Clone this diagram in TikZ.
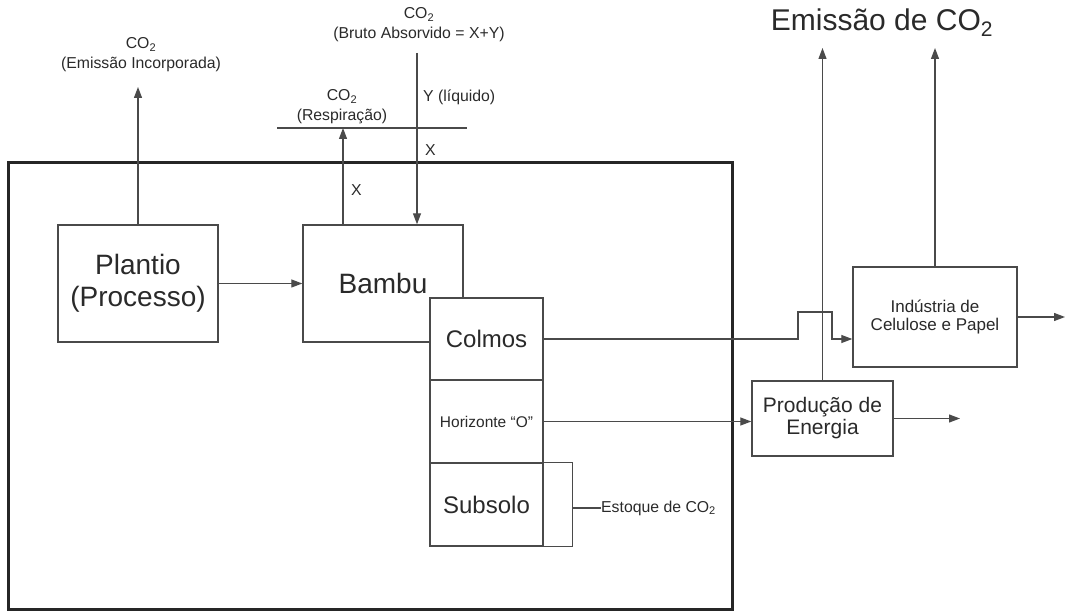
\documentclass[tikz,border=0pt]{standalone}
\usepackage{fontspec}
\setmainfont{Liberation Sans}
\usepackage{tikz}
\usetikzlibrary{positioning, shapes, arrows.meta}
\definecolor{linha}{HTML}{4A4A4A}
\definecolor{texto}{HTML}{2A2A2A}

\begin{document}
\begin{tikzpicture}[
  x=1pt, y=-1pt,
  >={Triangle[length=11pt, width=8pt]},
  seta/.style={->, linha, line width=1.2pt},
  caixa/.style={draw=linha, fill=white, line width=1.4pt, inner sep=0pt, align=center, text=texto},
  rotulo/.style={font=\fontsize{15.8}{20}\selectfont, text=texto, align=center, inner sep=0pt},
  every node/.style={text=texto}
]
  \useasboundingbox (0,0) rectangle (1066,612);

  % --- Moldura (sistema) ---
  \draw[black!85, line width=3pt] (8,163) rectangle (732,609);

  % --- Caixas principais ---
  \node[caixa, minimum width=160pt, minimum height=117pt, font=\fontsize{28}{32}\selectfont]
    (plantio) at (138,283.5) {Plantio\\(Processo)};
  \node[caixa, minimum width=160pt, minimum height=117pt, font=\fontsize{28}{32}\selectfont]
    (bambu) at (383,283.5) {Bambu};

  % --- Compartimentos do bambu ---
  \node[caixa, minimum width=113pt, minimum height=82pt, font=\fontsize{24}{28}\selectfont]
    (colmos) at (486.5,339) {Colmos};
  \node[caixa, minimum width=113pt, minimum height=83pt, font=\fontsize{15.5}{18}\selectfont]
    (horizonte) at (486.5,421.5) {Horizonte ``O''};
  \node[caixa, minimum width=113pt, minimum height=83pt, font=\fontsize{24}{28}\selectfont]
    (subsolo) at (486.5,504.5) {Subsolo};

  % --- Estoque de CO2 (chave) ---
  \draw[linha, line width=1.4pt] (subsolo.north east) -- ++(29,0) |- (subsolo.south east);
  \coordinate (chave) at (572,508);
  \node[rotulo, anchor=west] (estoque) at (601,508) {Estoque de CO\textsubscript{2}};
  \draw[linha, line width=1.2pt] (chave) -- (estoque.west);

  % --- Caixas externas ---
  \node[caixa, minimum width=164pt, minimum height=100pt, font=\fontsize{17}{18}\selectfont]
    (industria) at (935,317) {Indústria de\\Celulose e Papel};
  \node[caixa, minimum width=141pt, minimum height=75pt, font=\fontsize{21}{22}\selectfont]
    (producao) at (822.5,418.5) {Produção de\\Energia};

  % --- Rótulos de CO2 ---
  \node[rotulo] (emInc) at (141,55) {CO\textsubscript{2}\\(Emissão Incorporada)};
  \node[rotulo] (bruto) at (419,25) {CO\textsubscript{2}\\(Bruto Absorvido = X+Y)};
  \node[rotulo] (resp) at (342,107) {CO\textsubscript{2}\\(Respiração)};
  \node[rotulo, anchor=west] (liquido) at (423,97) {Y (líquido)};
  \node[rotulo, anchor=west] (xAlto) at (425,150) {X};
  \node[rotulo, anchor=west] (xBaixo) at (351,190) {X};
  \node[font=\fontsize{30}{34}\selectfont, inner sep=0pt] (emissao) at (882,23) {Emissão de CO\textsubscript{2}};

  % --- Pontos auxiliares ---
  \coordinate (tipEmInc) at (138,87);
  \coordinate (respEsq) at (277,128);
  \coordinate (respDir) at (467,128);
  \coordinate (respUp) at (343,128);
  \coordinate (brutoTop) at (417,53);
  \coordinate (emTip) at (0,48);
  \coordinate (degrauA) at (798,312);
  \coordinate (degrauB) at (832,312);
  \coordinate (indOut) at (1065,317);
  \coordinate (prodOut) at (960,418.5);

  % --- Setas ---
  \draw[seta] (plantio.north) -- (tipEmInc);
  \draw[seta] (plantio) -- (bambu);
  \draw[linha, line width=1.2pt] (respEsq) -- (respDir);
  \draw[seta] (respUp |- bambu.north) -- (respUp);
  \draw[seta] (brutoTop) -- (brutoTop |- bambu.north);

  \draw[seta] (colmos.east) -- (degrauA |- colmos.east) -- (degrauA) -- (degrauB)
    -- (degrauB |- colmos.east) -- (industria.west |- colmos.east);
  \draw[seta] (horizonte.east) -- (producao.west |- horizonte.east);
  \draw[seta] (producao.north) -- (producao.north |- emTip);
  \draw[seta] (industria.north) -- (industria.north |- emTip);
  \draw[seta] (industria.east) -- (indOut);
  \draw[seta] (producao.east) -- (prodOut);
\end{tikzpicture}
\end{document}
